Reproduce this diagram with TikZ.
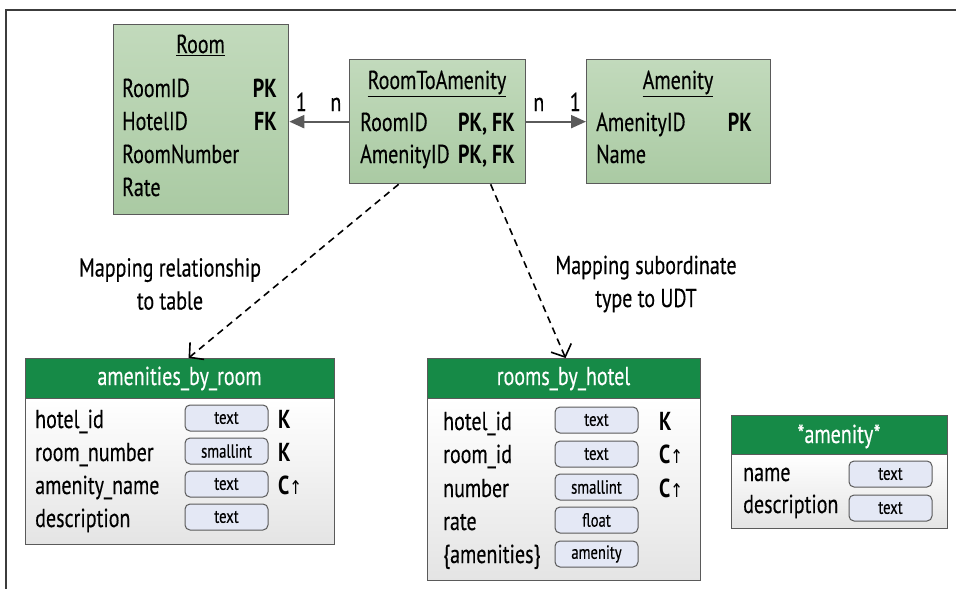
\documentclass[tikz,border=0pt]{standalone}
\usepackage{fontspec}
\setmainfont{PT Sans}[FakeStretch=0.77, UprightFeatures={FakeBold=0.35}]
\newfontfamily\arrowfont{DejaVu Sans}[FakeStretch=0.8]
\usepackage{xcolor}
\usepackage{tikz}
\usetikzlibrary{positioning}
\usetikzlibrary{arrows.meta}

\newcommand{\diagfont}{\fontsize{26}{30}\selectfont}
\newcommand{\sortup}{{\mdseries\arrowfont\fontsize{19}{19}\selectfont↑}}

\definecolor{edgegray}{HTML}{5A5A5A}
\definecolor{framegray}{HTML}{3C3C3C}
\definecolor{entitytop}{HTML}{C2DABC}
\definecolor{entitybottom}{HTML}{AACAA3}
\definecolor{tablegreen}{HTML}{168A47}
\definecolor{bodybottom}{HTML}{E4E4E4}
\definecolor{pillfill}{HTML}{E4E8F5}

\tikzset{
    entity/.style={draw=edgegray, line width=1.3pt, top color=entitytop, bottom color=entitybottom, anchor=north west, inner sep=0pt},
    tablehead/.style={draw=edgegray, line width=1.1pt, fill=tablegreen, anchor=north west, inner sep=0pt},
    tablebody/.style={draw=edgegray, line width=1.1pt, top color=white, bottom color=bodybottom, anchor=north west, inner sep=0pt},
    headtext/.style={text=white, anchor=base, inner sep=0pt},
    field/.style={anchor=base west, inner sep=0pt},
    keytag/.style={anchor=base west, inner sep=0pt, font=\diagfont\bfseries},
    pill/.style={draw=edgegray, line width=1pt, fill=pillfill, rounded corners=5pt, minimum width=83pt, minimum height=26pt, inner sep=0pt, font=\fontsize{19}{21}\selectfont},
    relarrow/.style={draw=edgegray, line width=2.2pt, -{Triangle[length=15pt,width=13pt]}},
    maparrow/.style={draw=black, line width=1.6pt, dash pattern=on 7pt off 5pt, -{Straight Barb[length=10pt,width=22pt]}},
    card/.style={inner sep=0pt, above=9.5pt}
}

\begin{document}
\begin{tikzpicture}[x=1pt, y=-1pt, every node/.style={font=\diagfont}]
    \useasboundingbox (0,0) rectangle (956,589);
    \draw[framegray, line width=1.5pt] (6,589) -- (6,10) -- (956,10);

    % entities
    \node[entity, minimum width=175pt, minimum height=190pt] (room) at (113,24) {};
    \node[anchor=base, inner sep=0pt] (room-title) at (200.5,53) {\underline{Room}};
    \node[field] (room-roomid) at (122,97) {RoomID};
    \node[field] (room-hotelid) at (122,130) {HotelID};
    \node[field] (room-number) at (122,163) {RoomNumber};
    \node[field] (room-rate) at (122,196) {Rate};
    \node[keytag, anchor=base east] (room-pk) at (277,97) {PK};
    \node[keytag, anchor=base east] (room-fk) at (277,130) {FK};

    \node[entity, minimum width=176pt, minimum height=124pt] (r2a) at (349,59) {};
    \node[anchor=base, inner sep=0pt] (r2a-title) at (437,89) {\underline{RoomToAmenity}};
    \node[field] (r2a-roomid) at (360,131) {RoomID};
    \node[field] (r2a-amenityid) at (360,163) {AmenityID};
    \node[keytag, anchor=base east] (r2a-key1) at (515,131) {PK, FK};
    \node[keytag, anchor=base east] (r2a-key2) at (515,163) {PK, FK};

    \node[entity, minimum width=184pt, minimum height=124pt] (amenity) at (586,59) {};
    \node[anchor=base, inner sep=0pt] (amenity-title) at (678,89) {\underline{Amenity}};
    \node[field] (amenity-id) at (596,131) {AmenityID};
    \node[field] (amenity-name) at (596,163) {Name};
    \node[keytag, anchor=base east] (amenity-pk) at (752,131) {PK};

    \draw[relarrow] (r2a.west) -- node[card, pos=0.22]{n} node[card, pos=0.8]{1} (room.east |- r2a.west);
    \draw[relarrow] (r2a.east) -- node[card, pos=0.21]{n} node[card, pos=0.82]{1} (amenity.west |- r2a.east);

    % tables
    \node[tablehead, minimum width=309pt, minimum height=40pt] (abr-head) at (25,358) {};
    \node[tablebody, minimum width=309pt, minimum height=146pt] (abr-body) at (25,398) {};
    \node[headtext] (abr-title) at (179.5,385) {amenities\_by\_room};
    \node[field] (abr-hotel) at (35,428) {hotel\_id};
    \node[field] (abr-room) at (35,461) {room\_number};
    \node[field] (abr-amenity) at (35,494) {amenity\_name};
    \node[field] (abr-desc) at (35,527) {description};
    \node[pill] (abr-t1) at (226.5,418) {text};
    \node[pill] (abr-t2) at (226.5,451) {smallint};
    \node[pill] (abr-t3) at (226.5,484) {text};
    \node[pill] (abr-t4) at (226.5,517) {text};
    \node[keytag] (abr-k1) at (278,428) {K};
    \node[keytag] (abr-k2) at (278,461) {K};
    \node[keytag] (abr-k3) at (278,494) {C\sortup};

    \node[tablehead, minimum width=273pt, minimum height=40pt] (rbh-head) at (427,358) {};
    \node[tablebody, minimum width=273pt, minimum height=182pt] (rbh-body) at (427,398) {};
    \node[headtext] (rbh-title) at (563.5,385) {rooms\_by\_hotel};
    \node[field] (rbh-hotel) at (443,430) {hotel\_id};
    \node[field] (rbh-room) at (443,463) {room\_id};
    \node[field] (rbh-number) at (443,497) {number};
    \node[field] (rbh-rate) at (443,530) {rate};
    \node[field] (rbh-amenities) at (443,563) {\{amenities\}};
    \node[pill] (rbh-t1) at (596.5,420) {text};
    \node[pill] (rbh-t2) at (596.5,454) {text};
    \node[pill] (rbh-t3) at (596.5,487) {smallint};
    \node[pill] (rbh-t4) at (596.5,520) {float};
    \node[pill] (rbh-t5) at (596.5,554) {amenity};
    \node[keytag] (rbh-k1) at (659,430) {K};
    \node[keytag] (rbh-k2) at (659,463) {C\sortup};
    \node[keytag] (rbh-k3) at (659,497) {C\sortup};

    \node[tablehead, minimum width=216pt, minimum height=39pt] (udt-head) at (731,415) {};
    \node[tablebody, minimum width=216pt, minimum height=74pt] (udt-body) at (731,454) {};
    \node[headtext] (udt-title) at (839,443) {*amenity*};
    \node[field] (udt-name) at (743,481) {name};
    \node[field] (udt-desc) at (743,513) {description};
    \node[pill] (udt-t1) at (890.5,474) {text};
    \node[pill] (udt-t2) at (890.5,508) {text};

    % mappings
    \draw[maparrow] ([xshift=-39pt]r2a.south) -- ([xshift=8.5pt]abr-head.north);
    \draw[maparrow] ([xshift=53pt]r2a.south) -- ([xshift=1.5pt]rbh-head.north);
    \node[align=center, font=\fontsize{26}{33}\selectfont] (map-left) at (170,284) {Mapping relationship\\to table};
    \node[align=center, font=\fontsize{26}{33}\selectfont] (map-right) at (646,284) {Mapping subordinate\\type to UDT};
\end{tikzpicture}
\end{document}
